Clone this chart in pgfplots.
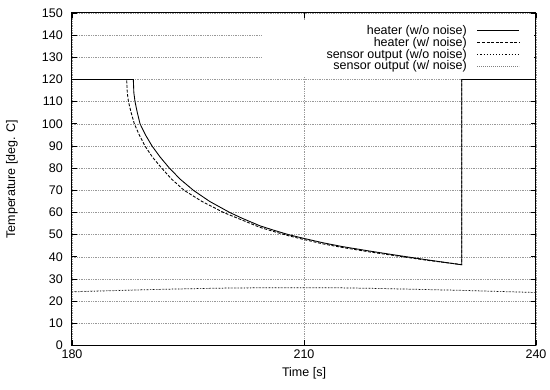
\documentclass[border=0pt]{standalone}
\usepackage{fontspec}
\setmainfont{Liberation Sans}
\usepackage{pgfplots}
\pgfplotsset{compat=1.18}
\begin{document}
\begin{tikzpicture}
\useasboundingbox (-57.6pt,-35.6pt) rectangle (382.4pt,276.4pt);
\begin{axis}[
  at={(0,0)}, anchor=south west,
  scale only axis, width=371.2pt, height=266pt,
  xmin=180, xmax=240, ymin=0, ymax=150,
  xtick={180,210,240}, ytick={0,10,...,150},
  grid=major,
  major grid style={gray!80, line width=0.5pt, dash pattern=on 0.5pt off 0.9pt},
  tick align=inside, major tick length=4pt,
  axis line style={line width=0.8pt},
  every tick/.style={black, line width=0.6pt},
  /pgf/number format/assume math mode=true,
  font=\fontsize{10}{12}\selectfont,
  tick label style={font=\fontsize{10}{12}\selectfont},
  xticklabel style={anchor=center, yshift=-6.8pt},
  yticklabel style={anchor=east, inner sep=0pt, xshift=-7.2pt},
  xlabel={Time [s]}, ylabel={Temperature [deg. C]},
  every axis x label/.style={at={(axis description cs:0.5,0)}, anchor=center, yshift=-22pt},
  every axis y label/.style={at={(axis description cs:-0.1293,0.5)}, rotate=90, anchor=center},
  legend plot pos=right,
  legend cell align=right,
  legend image code/.code={\draw[#1] (0pt,0pt) -- (33.6pt,0pt);},
  legend style={at={(rel axis cs:1,1)}, anchor=north east, xshift=-1pt, yshift=-5.9pt,
    draw=none, fill=white, inner xsep=11.8pt, inner ysep=3.5pt,
    font=\fontsize{10}{12}\selectfont,
    nodes={inner ysep=0.35pt, inner xsep=3.3pt},
    /tikz/every odd column/.append style={column sep=4.7pt}},
]
\addplot[black, line width=0.7pt] coordinates {
(180,120) (187.93,120) (188.0,114) (188.15,110) (188.45,105) (188.8,100) (189.5,95)
(190.35,90) (191.4,85) (192.6,80) (194.0,75) (195.7,70) (197.8,65) (200.4,60)
(202,57.4) (204.3,54) (206,52.1) (208,50) (210,48.3) (212.5,46.3) (215,44.6)
(218.5,42.6) (222,40.7) (226,38.6) (230.4,36.4) (230.4,120) (240,120)};
\addlegendentry{heater (w/o noise)}
\addplot[black, line width=0.7pt, dash pattern=on 2.4pt off 1.3pt] coordinates {
(180,120) (187.07,120) (187.15,114) (187.3,110) (187.65,105) (188.06,100) (188.7,95)
(189.44,90) (190.4,85) (191.6,80) (192.9,75) (194.5,70) (196.8,65) (199.6,60)
(201.5,57.3) (204.3,53.3) (206,51.5) (208,49.5) (210,47.8) (212.5,45.8) (215,44.2)
(218.5,42.2) (222,40.4) (226,38.4) (230.4,36.5) (230.4,120) (240,120)};
\addlegendentry{heater (w/ noise)}
\addplot[black, line width=0.6pt, dash pattern=on 0.9pt off 1.6pt] coordinates {
(180,24.2) (185,24.7) (190,25.2) (195,25.6) (200,25.9) (205,26.05) (210,26.1)
(215,26.0) (220,25.7) (225,25.3) (230,24.9) (235,24.4) (240,23.9)};
\addlegendentry{sensor output (w/o noise)}
\addplot[gray, line width=0.6pt, dash pattern=on 0.6pt off 1pt] coordinates {
(180,24.3) (185,24.8) (190,25.2) (195,25.6) (200,25.9) (205,26.1) (210,26.1)
(215,26.0) (220,25.7) (225,25.3) (230,24.9) (235,24.4) (240,23.9)};
\addlegendentry{\hspace*{42.4pt}sensor output (w/ noise)}
\end{axis}
\end{tikzpicture}
\end{document}
